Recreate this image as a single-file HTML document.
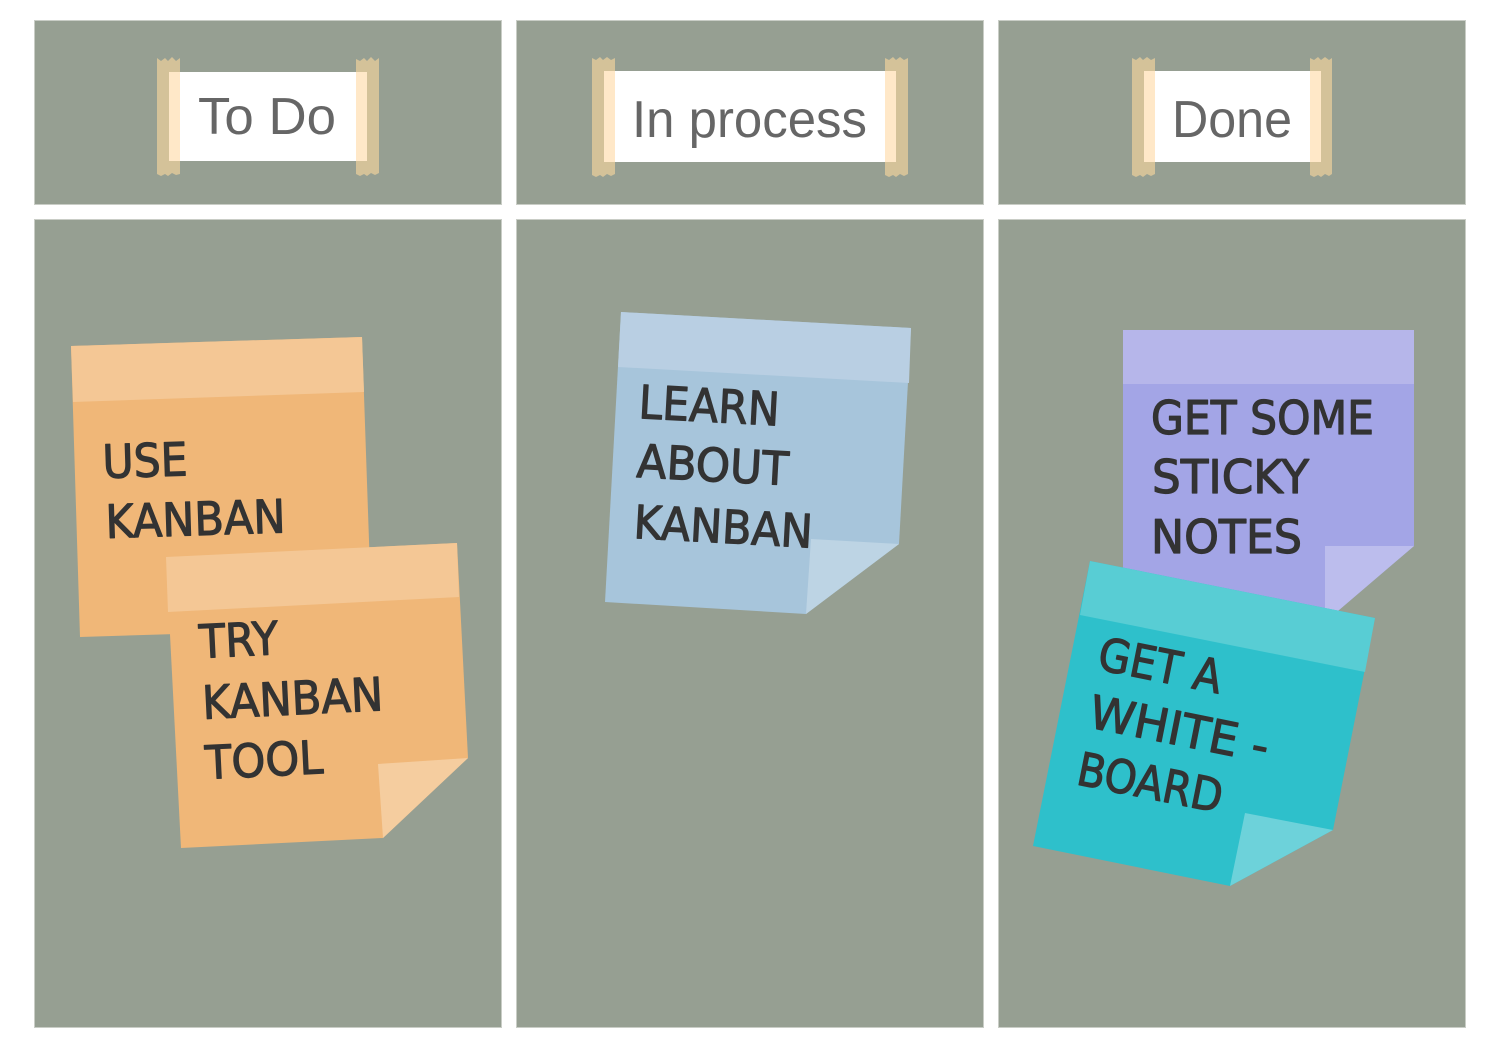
<!DOCTYPE html>
<html>
<head>
<meta charset="utf-8">
<style>
html,body{margin:0;padding:0;background:#fff;width:1500px;height:1050px;overflow:hidden}
svg{display:block}
.h{font-family:"Liberation Sans",sans-serif;font-size:52px;fill:#666}
.n{font-family:"Comic Sans MS","DejaVu Sans","Liberation Sans",sans-serif;font-size:46px;fill:#333;stroke:#333;stroke-width:1.2px;stroke-linejoin:round}
.tp{fill:#d4c299}
.ov{fill:#ffe8c8}
</style>
</head>
<body>
<svg width="1500" height="1050" viewBox="0 0 1500 1050" xmlns="http://www.w3.org/2000/svg">
<rect width="1500" height="1050" fill="#fff"/>
<g fill="#969f92" stroke="#c9cdc6" stroke-width="1">
<rect x="34.500" y="20.500" width="467" height="184"/>
<rect x="516.500" y="20.500" width="467" height="184"/>
<rect x="998.500" y="20.500" width="467" height="184"/>
<rect x="34.500" y="219.500" width="467" height="808"/>
<rect x="516.500" y="219.500" width="467" height="808"/>
<rect x="998.500" y="219.500" width="467" height="808"/>
</g>

<!-- To Do -->
<polygon class="tp" points="157,58 161,61 165,58 168,61 172,57 176,61 180,58 180,174 176,175 172,173 168,176 165,174 161,176 157,174"/>
<polygon class="tp" points="356,59 360,61 364,58 367,61 371,57 375,61 379,58 379,173 375,175 371,173 367,176 364,174 360,176 356,174"/>
<rect x="169" y="72" width="198" height="89" fill="#fff"/>
<rect x="169" y="72" width="11" height="89" class="ov"/>
<rect x="356" y="72" width="11" height="89" class="ov"/>
<text class="h" x="198" y="134" textLength="138" lengthAdjust="spacingAndGlyphs">To Do</text>

<!-- In process -->
<polygon class="tp" points="592,58 596,60 600,57 603,60 607,57 611,60 615,58 615,174 611,176 607,174 603,177 600,175 596,177 592,175"/>
<polygon class="tp" points="885,58 889,60 893,57 896,60 900,57 904,60 908,58 908,174 904,176 900,174 896,177 893,175 889,177 885,175"/>
<rect x="604" y="71" width="292" height="91" fill="#fff"/>
<rect x="604" y="71" width="11" height="91" class="ov"/>
<rect x="885" y="71" width="11" height="91" class="ov"/>
<text class="h" x="632" y="137" textLength="235" lengthAdjust="spacingAndGlyphs">In process</text>

<!-- Done -->
<polygon class="tp" points="1132,58 1136,60 1140,57 1143,60 1147,57 1151,60 1155,58 1155,174 1151,176 1147,174 1143,177 1140,175 1136,177 1132,175"/>
<polygon class="tp" points="1310,58 1314,60 1318,57 1321,60 1325,57 1329,60 1332,58 1332,174 1329,176 1325,174 1321,177 1318,175 1314,177 1310,175"/>
<rect x="1144" y="71" width="177" height="91" fill="#fff"/>
<rect x="1144" y="71" width="11" height="91" class="ov"/>
<rect x="1310" y="71" width="11" height="91" class="ov"/>
<text class="h" x="1172" y="137" textLength="120" lengthAdjust="spacingAndGlyphs">Done</text>

<!-- Orange 1 -->
<polygon points="71,346 362,337 372,628 80,637" fill="#f0b778"/>
<polygon points="71,346 362,337 364,392 73,402" fill="#f4c795"/>
<text class="n" transform="translate(103,478) rotate(-1.8)" textLength="85" lengthAdjust="spacingAndGlyphs">USE</text>
<text class="n" transform="translate(106,538) rotate(-1.8)" textLength="180" lengthAdjust="spacingAndGlyphs">KANBAN</text>

<!-- Orange 2 -->
<polygon points="166,557 457,543 468,758 383,838 181,848" fill="#f0b778"/>
<polygon points="166,557 457,543 459,597 168,612" fill="#f4c795"/>
<polygon points="378,764 468,758 383,838" fill="#f5cd9f"/>
<text class="n" transform="translate(200,658) rotate(-2.8)" textLength="79" lengthAdjust="spacingAndGlyphs">TRY</text>
<text class="n" transform="translate(203,719) rotate(-2.8)" textLength="181" lengthAdjust="spacingAndGlyphs">KANBAN</text>
<text class="n" transform="translate(206,779) rotate(-2.8)" textLength="118" lengthAdjust="spacingAndGlyphs">TOOL</text>

<!-- Blue -->
<polygon points="621,312 911,328 899,544 806,614 605,602" fill="#a7c5db"/>
<polygon points="621,312 911,328 909,383 618,367" fill="#b9cfe3"/>
<polygon points="811,539 899,544 806,614" fill="#bdd4e4"/>
<text class="n" transform="translate(638,418) rotate(3.1)" textLength="141" lengthAdjust="spacingAndGlyphs">LEARN</text>
<text class="n" transform="translate(636,477) rotate(3.1)" textLength="152" lengthAdjust="spacingAndGlyphs">ABOUT</text>
<text class="n" transform="translate(633,538) rotate(3.1)" textLength="179" lengthAdjust="spacingAndGlyphs">KANBAN</text>

<!-- Purple -->
<polygon points="1123,330 1414,330 1414,546 1325,622 1123,622" fill="#a3a5e6"/>
<polygon points="1123,330 1414,330 1414,384 1123,384" fill="#b6b6ea"/>
<polygon points="1325,546 1414,546 1325,622" fill="#bcbded"/>
<text class="n" x="1151" y="434" textLength="223" lengthAdjust="spacingAndGlyphs">GET SOME</text>
<text class="n" x="1152" y="493" textLength="157" lengthAdjust="spacingAndGlyphs">STICKY</text>
<text class="n" x="1151" y="553" textLength="151" lengthAdjust="spacingAndGlyphs">NOTES</text>

<!-- Teal -->
<polygon points="1090,561 1375,618 1333,830 1230,886 1033,846" fill="#2ec0cb"/>
<polygon points="1090,561 1375,618 1365,672 1080,615" fill="#58cdd4"/>
<polygon points="1245,813 1333,830 1230,886" fill="#6dd2da"/>
<text class="n" transform="translate(1096,669) rotate(11.3)" textLength="125" lengthAdjust="spacingAndGlyphs">GET A</text>
<text class="n" transform="translate(1087,727) rotate(11.3)" textLength="182" lengthAdjust="spacingAndGlyphs">WHITE -</text>
<text class="n" transform="translate(1075,784) rotate(11.3)" textLength="147" lengthAdjust="spacingAndGlyphs">BOARD</text>
</svg>
</body>
</html>
